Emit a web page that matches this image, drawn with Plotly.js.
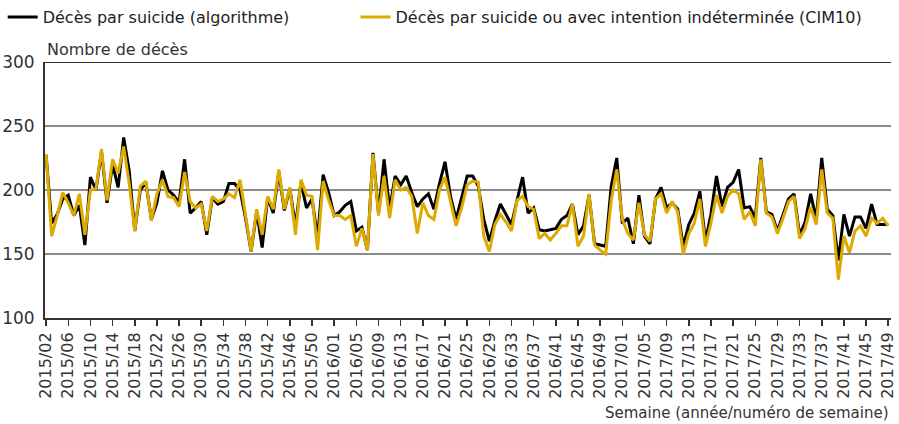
<!DOCTYPE html>
<html>
<head>
<meta charset="utf-8">
<script src="https://cdn.plot.ly/plotly-3.0.1.min.js"></script>
<style>
  html, body { margin: 0; padding: 0; background: #fff; }
  #chart { width: 899px; height: 424px; }
</style>
</head>
<body>
<div id="chart"></div>
<script>
// weeks covered: 2015/02 .. 2017/49
const years = [2015, 2016, 2017];
const firstWeek = [2, 1, 1];
const lastWeek = [53, 52, 49];

// weekly deaths, suicide detected by the algorithm (black)
const algo = [227,174,181,193,196,180,188,157,210,200, 230,190,220,202,241,215,168,200,206,177,
  190,215,200,196,190,224,182,186,191,165, 194,189,191,205,205,200,178,152,183,155,
  194,182,214,184,201,172,206,186,193,163, 212,198,180,183,188,191,168,171,153,229,
  182,224,185,211,204,211,198,187,193,197, 185,205,222,195,177,195,211,211,203,177,
  160,176,189,181,173,192,210,182,186,169, 168,169,170,177,180,189,165,172,196,158,
  157,156,203,225,174,178,158,196,164,158, 193,202,186,190,185,156,173,182,199,160,
  181,211,187,202,206,216,186,187,178,225, 183,181,168,180,193,197,165,175,197,177,
  225,185,180,145,181,164,179,179,170,189, 173,173,173];

// weekly deaths, suicide or undetermined intent, ICD-10 (gold)
const cim10 = [228,164,180,198,190,180,197,165,200,201, 232,192,224,213,234,205,168,203,207,176,
  197,208,195,194,187,214,191,186,189,168, 195,191,193,197,194,208,180,152,185,165,
  195,185,216,185,202,165,208,196,195,153, 207,192,180,180,177,180,156,170,153,228,
  180,211,178,208,200,202,195,166,190,180, 177,200,210,192,172,186,204,207,206,164,
  152,173,181,175,168,192,195,187,185,162, 166,161,166,172,172,189,156,164,197,157,
  153,150,192,216,177,166,161,190,165,160, 193,197,182,191,183,150,166,174,193,156,
  174,196,182,195,200,197,177,183,172,224, 182,179,166,178,191,195,162,170,187,173,
  216,182,178,130,164,151,168,172,164,178, 174,178,172];

const weeks = [];
years.forEach((y, k) => {
  for (let w = firstWeek[k]; w <= lastWeek[k]; w++) {
    weeks.push(y + '/' + String(w).padStart(2, '0'));
  }
});
const tickWeeks = weeks.filter((_, i) => i % 4 === 0);

const font = 'DejaVu Sans, sans-serif';
const txt = '#333';

const traces = [
  {x: weeks, y: algo, name: 'Décès par suicide (algorithme)', mode: 'lines',
   line: {color: '#000000', width: 3}, legend: 'legend'},
  {x: weeks, y: cim10, name: 'Décès par suicide ou avec intention indéterminée (CIM10)', mode: 'lines',
   line: {color: '#dcaa00', width: 3}, legend: 'legend2'}
];

const legendBase = {orientation: 'h', y: 1.0, yanchor: 'top', xanchor: 'left',
  yref: 'container', bgcolor: 'rgba(0,0,0,0)',
  font: {family: font, size: 16, color: '#222'}};

const layout = {
  width: 899, height: 424,
  margin: {l: 45, r: 8, t: 62, b: 106},
  paper_bgcolor: '#fff', plot_bgcolor: '#fff',
  font: {family: font, size: 16, color: txt},
  showlegend: true,
  legend: Object.assign({}, legendBase, {x: -0.05}),
  legend2: Object.assign({}, legendBase, {x: 0.367}),
  xaxis: {
    type: 'category', range: [-0.2, 152.5],
    tickvals: tickWeeks, ticktext: tickWeeks, tickangle: -90,
    ticks: 'outside', ticklen: 6, tickwidth: 1.5, tickcolor: '#333',
    showline: true, linecolor: '#333', linewidth: 2,
    showgrid: false, zeroline: false,
    tickfont: {family: font, size: 16, color: txt}
  },
  yaxis: {
    range: [100, 300], dtick: 50, tick0: 100,
    showline: true, linecolor: '#333', linewidth: 2,
    showgrid: true, gridcolor: '#8a8a8a', gridwidth: 1.5,
    zeroline: false, ticks: '', ticklabelstandoff: 5,
    tickfont: {family: font, size: 17, color: txt}
  },
  shapes: [
    {type: 'line', xref: 'paper', yref: 'y', x0: 0, x1: 1, y0: 300, y1: 300,
     line: {color: '#333', width: 2}}
  ],
  annotations: [
    {text: 'Nombre de décès', xref: 'paper', yref: 'paper', x: 0, y: 1,
     xanchor: 'left', yanchor: 'bottom', yshift: 1, showarrow: false,
     font: {family: font, size: 16, color: txt}},
    {text: 'Semaine (année/numéro de semaine)', xref: 'paper', yref: 'paper', x: 1, y: 0,
     xanchor: 'right', yanchor: 'top', yshift: -84, showarrow: false,
     font: {family: font, size: 15, color: txt}}
  ]
};

Plotly.newPlot('chart', traces, layout, {displayModeBar: false, staticPlot: true});
</script>
</body>
</html>
